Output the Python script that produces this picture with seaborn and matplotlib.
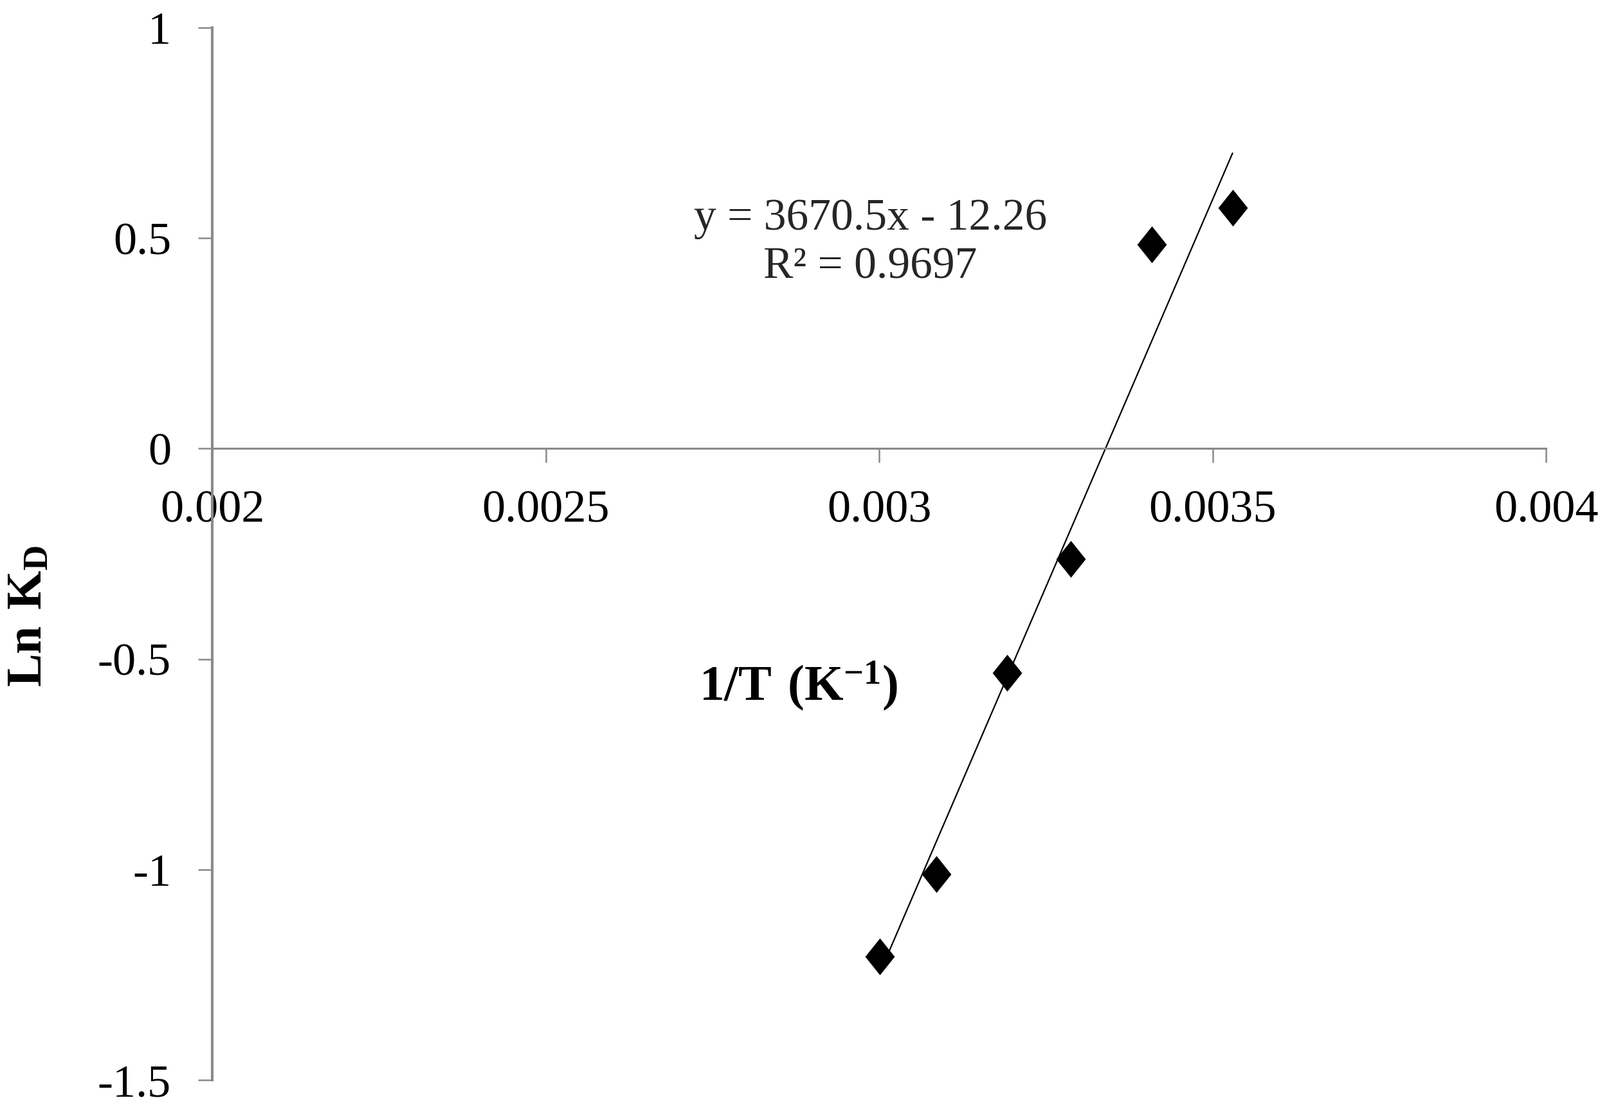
import matplotlib
matplotlib.use('Agg')
import matplotlib.pyplot as plt
import seaborn as sns
import pandas as pd

# Data (1/T in K^-1, Ln KD)
inv_T = [0.003001, 0.003086, 0.003192, 0.003287, 0.003409, 0.003530]
ln_kd = [-1.207, -1.011, -0.533, -0.262, 0.485, 0.572]

x_ticks = [0.002, 0.0025, 0.003, 0.0035, 0.004]
x_tick_labels = ['0.002', '0.0025', '0.003', '0.0035', '0.004']
y_ticks = [-1.5, -1, -0.5, 0, 0.5, 1]
y_tick_labels = ['-1.5', '-1', '-0.5', '0', '0.5', '1']

eq_text = 'y = 3670.5x - 12.26\nR\u00b2 = 0.9697'

df = pd.DataFrame({'inv_T': inv_T, 'ln_kd': ln_kd})

sns.set_style('white')
plt.rcParams['font.family'] = ['Liberation Serif', 'DejaVu Serif']
plt.rcParams['mathtext.fontset'] = 'custom'
plt.rcParams['mathtext.rm'] = 'Liberation Serif'
plt.rcParams['mathtext.bf'] = 'Liberation Serif:bold'
plt.rcParams['axes.unicode_minus'] = False

fig = plt.figure(figsize=(24.88, 17.21), dpi=100)
ax = fig.add_axes([0.13264, 0.02440, 0.83360, 0.95061])

# trendline (linear fit over the data range)
sns.regplot(x='inv_T', y='ln_kd', data=df, ci=None, truncate=True, scatter=False,
            color='black', line_kws={'linewidth': 1.6}, ax=ax)

# Excel-style diamond, a bit taller than wide
diamond = [(0, 1), (0.8, 0), (0, -1), (-0.8, 0), (0, 1)]
sns.scatterplot(x='inv_T', y='ln_kd', data=df, marker=diamond, s=1700, color='black',
                edgecolor='black', linewidth=0, ax=ax, zorder=3)

ax.set_xlim(0.002, 0.004)
ax.set_ylim(-1.5, 1)
ax.set_xticks(x_ticks)
ax.set_xticklabels(x_tick_labels)
ax.set_yticks(y_ticks)
ax.set_yticklabels(y_tick_labels)

# axis look
gray = '#8a8a8a'
ax.spines['top'].set_visible(False)
ax.spines['right'].set_visible(False)
ax.spines['bottom'].set_position(('data', 0))
ax.spines['bottom'].set_color(gray)
ax.spines['left'].set_color(gray)
ax.spines['bottom'].set_linewidth(2.2)
ax.spines['left'].set_linewidth(3.0)
ax.tick_params(axis='both', direction='out', length=16, width=1.8, color=gray,
               pad=30, labelsize=52, labelcolor='black')
ax.tick_params(axis='x', bottom=True)
ax.tick_params(axis='y', left=True)
ax.grid(False)

ax.set_xlabel(r'$\mathbf{1/T\ (K^{-1})}$', fontsize=56, color='black')
ax.xaxis.set_label_coords(0.4393, 0.3747)
ax.xaxis.label.set_va('center')
ax.set_ylabel(r'$\mathbf{Ln\ K_D}$', fontsize=56, color='black')
ax.yaxis.set_label_coords(-0.1374, 0.4407)
ax.yaxis.label.set_va('center')

ax.text(0.4935, 0.795, eq_text, transform=ax.transAxes, ha='center', va='center',
        multialignment='center', fontsize=50, linespacing=1.25)

plt.savefig('out.png', dpi=100)
plt.close()
